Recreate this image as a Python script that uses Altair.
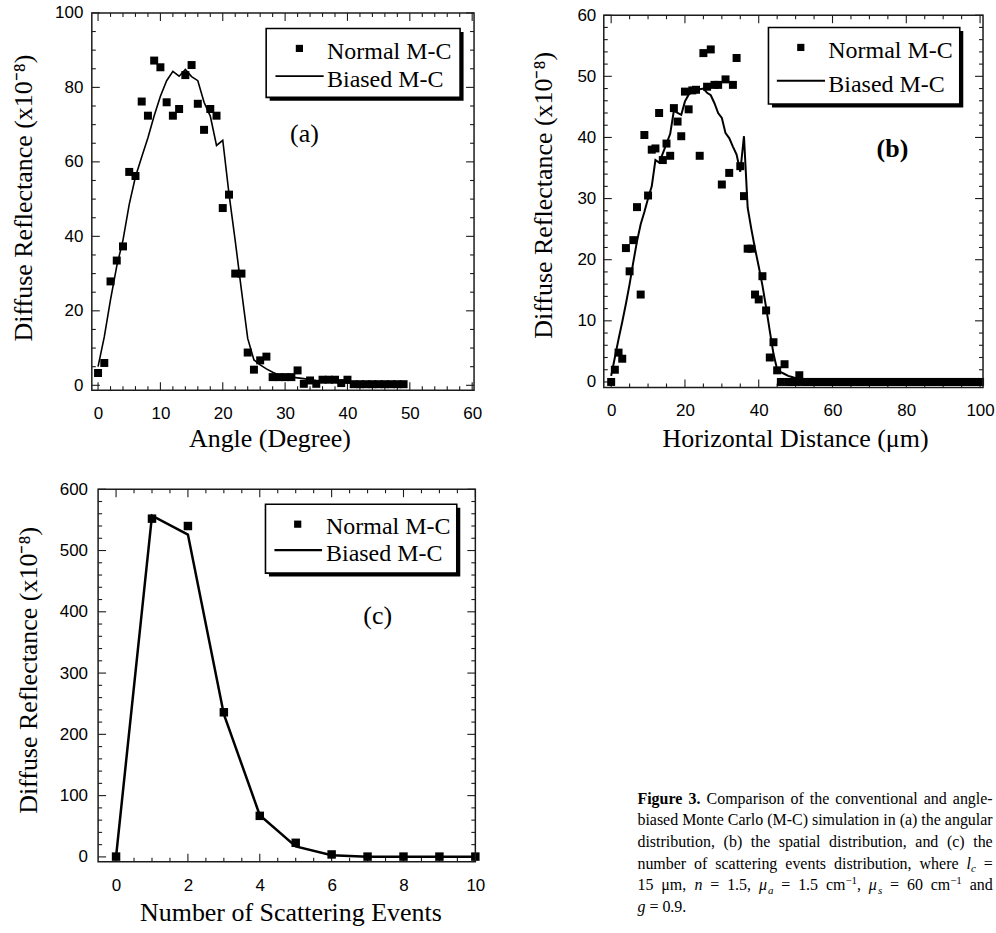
import altair as alt
import pandas as pd

# ---------------------------------------------------------------------------
# Panel (a): angular distribution of the diffuse reflectance
# ---------------------------------------------------------------------------
angle_deg = list(range(50))
angle_normal = [3.3, 6.0, 27.9, 33.5, 37.3, 57.3, 56.2, 76.2, 72.4, 87.2,
                85.4, 76.0, 72.4, 74.2, 83.3, 86.0, 75.6, 68.6, 74.2, 72.4,
                47.6, 51.2, 30.0, 30.0, 8.8, 4.2, 6.7, 7.7, 2.2, 2.2,
                2.2, 2.2, 4.0, 0.4, 1.3, 0.4, 1.5, 1.5, 1.5, 0.6,
                1.5, 0.3, 0.3, 0.3, 0.3, 0.3, 0.3, 0.3, 0.3, 0.3]
angle_biased = [5.0, 13.0, 23.0, 32.0, 39.0, 48.6, 56.0, 61.3, 66.5, 72.4,
                77.6, 81.8, 84.3, 83.0, 84.8, 82.9, 81.8, 76.0, 72.3, 64.4,
                65.8, 51.4, 38.8, 25.5, 12.6, 6.8, 5.5, 4.4, 3.5, 2.8,
                2.4, 2.2, 2.0, 1.8, 1.5, 1.3, 1.2, 1.0, 0.8, 0.7,
                0.6, 0.5, 0.5, 0.4, 0.4, 0.4, 0.3, 0.3, 0.3, 0.3]

# ---------------------------------------------------------------------------
# Panel (b): spatial distribution (horizontal distance, um)
# ---------------------------------------------------------------------------
distance_um = list(range(101))
distance_normal = [0.0, 2.0, 4.8, 3.8, 21.9, 18.1, 23.2, 28.6, 14.3, 40.4,
                   30.5, 38.0, 38.2, 44.0, 36.3, 39.0, 37.0, 44.8, 42.6, 40.2,
                   47.5, 44.6, 47.7, 47.8, 37.0, 53.8, 48.3, 54.4, 48.6, 48.6,
                   32.3, 49.5, 34.2, 48.6, 53.0, 35.3, 30.4, 21.8, 21.8, 14.3,
                   13.5, 17.3, 11.7, 4.0, 6.5, 1.9, 0.0, 2.9, 0.0, 0.0,
                   0.0, 1.1, 0.0, 0.0, 0.0, 0.0, 0.0, 0.0, 0.0, 0.0,
                   0.0, 0.0, 0.0, 0.0, 0.0, 0.0, 0.0, 0.0, 0.0, 0.0,
                   0.0, 0.0, 0.0, 0.0, 0.0, 0.0, 0.0, 0.0, 0.0, 0.0,
                   0.0, 0.0, 0.0, 0.0, 0.0, 0.0, 0.0, 0.0, 0.0, 0.0,
                   0.0, 0.0, 0.0, 0.0, 0.0, 0.0, 0.0, 0.0, 0.0, 0.0,
                   0.0]
distance_biased = [1.0, 4.0, 7.0, 9.8, 12.8, 16.0, 19.6, 23.0, 25.8, 27.8,
                   30.0, 32.0, 36.3, 35.9, 37.4, 39.0, 40.6, 44.4, 44.0, 43.7,
                   45.9, 47.0, 47.5, 47.8, 47.9, 48.0, 47.3, 46.9, 45.6, 44.0,
                   43.2, 40.7, 39.9, 38.5, 37.2, 34.4, 40.2, 28.5, 25.0, 21.8,
                   18.9, 15.8, 12.2, 8.3, 4.6, 2.0, 1.6, 1.3, 1.0, 0.8,
                   0.6, 0.3, 0.0, 0.0, 0.0, 0.0, 0.0, 0.0, 0.0, 0.0,
                   0.0, 0.0, 0.0, 0.0, 0.0, 0.0, 0.0, 0.0, 0.0, 0.0,
                   0.0, 0.0, 0.0, 0.0, 0.0, 0.0, 0.0, 0.0, 0.0, 0.0,
                   0.0, 0.0, 0.0, 0.0, 0.0, 0.0, 0.0, 0.0, 0.0, 0.0,
                   0.0, 0.0, 0.0, 0.0, 0.0, 0.0, 0.0, 0.0, 0.0, 0.0,
                   0.0]

# ---------------------------------------------------------------------------
# Panel (c): number of scattering events
# ---------------------------------------------------------------------------
scatter_events = list(range(11))
events_normal = [0.5, 552.0, 540.0, 236.0, 67.0, 23.0, 4.0, 0.5, 0.5, 0.5, 0.5]
events_biased = [0.5, 557.0, 526.0, 233.0, 68.0, 17.0, 2.6, 0.3, 0.3, 0.3, 0.3]

series_labels = ["Normal M-C", "Biased M-C"]
panel_tags = ["(a)", "(b)", "(c)"]
x_titles = ["Angle (Degree)", "Horizontal Distance (μm)", "Number of Scattering Events"]
y_title = "Diffuse Reflectance (x10⁻⁸)"

a_x_labels = [0, 10, 20, 30, 40, 50, 60]
a_y_labels = [0, 20, 40, 60, 80, 100]
b_x_labels = [0, 20, 40, 60, 80, 100]
b_y_labels = [0, 10, 20, 30, 40, 50, 60]
c_x_labels = [0, 2, 4, 6, 8, 10]
c_y_labels = [0, 100, 200, 300, 400, 500, 600]

# ---------------------------------------------------------------------------
# Styling
# ---------------------------------------------------------------------------
SERIF = "Liberation Serif"
SANS = "Liberation Sans"
INK = "#1b1b1b"


def minor_ticks(lo, hi, step, majors):
    n = int(round((hi - lo) / step))
    vals = [round(lo + k * step, 4) for k in range(n + 1)]
    return [v for v in vals if all(abs(v - m) > 1e-9 for m in majors)]


def make_panel(p):
    xkw = dict(domain=p["xdom"], nice=False, zero=False)
    if "xrange" in p:
        xkw["range"] = p["xrange"]
    ykw = dict(domain=p["ydom"], nice=False, zero=False)
    if "yrange" in p:
        ykw["range"] = p["yrange"]
    sx = alt.Scale(**xkw)
    sy = alt.Scale(**ykw)

    ax = alt.Axis(values=p["x_major"], title=p["xtitle"], grid=False, domain=False,
                  ticks=False, tickSize=0, labelFont=SANS, labelFontSize=17,
                  labelColor="black", labelPadding=p["xlabpad"], labelFlush=False,
                  labelOverlap=False, titleFont=SERIF, titleFontSize=26,
                  titleFontWeight="normal", titleColor="black", titleAlign="center",
                  titleBaseline="alphabetic", titleX=p["xtitle_pos"][0],
                  titleY=p["xtitle_pos"][1])
    ay = alt.Axis(values=p["y_major"], title=y_title, grid=False, domain=False,
                  ticks=False, tickSize=0, labelFont=SANS, labelFontSize=17,
                  labelColor="black", labelPadding=p["ylabpad"], labelFlush=False,
                  labelOverlap=False, titleFont=SERIF, titleFontSize=26,
                  titleFontWeight="normal", titleColor="black", titleAngle=270,
                  titleAlign="center", titleBaseline="alphabetic",
                  titleX=p["ytitle_pos"][0], titleY=p["ytitle_pos"][1])

    def X(f):
        return alt.X(f, scale=sx, axis=ax)

    def Y(f):
        return alt.Y(f, scale=sy, axis=ay)

    def XD(d):
        return alt.XDatum(datum=d, scale=sx, axis=ax)

    def YD(d):
        return alt.YDatum(datum=d, scale=sy, axis=ay)

    xlo, xhi = p["xdom"]
    ylo, yhi = p["ydom"]
    one = pd.DataFrame({"k": [0]})
    layers = []

    # inward ticks on all four sides
    x_minor = minor_ticks(p["x_major"][0], p["x_major"][-1], p["x_step"], p["x_major"])
    y_minor = minor_ticks(p["y_major"][0], p["y_major"][-1], p["y_step"], p["y_major"])
    for vals, ln in ((p["x_major"], 8), (x_minor, 4)):
        df = pd.DataFrame({"v": vals})
        layers.append(alt.Chart(df).mark_rule(color=INK, strokeWidth=1.1, y2Offset=-ln)
                      .encode(x=X("v:Q"), y=YD(ylo), y2=alt.Y2Datum(datum=ylo)))
        layers.append(alt.Chart(df).mark_rule(color=INK, strokeWidth=1.1, y2Offset=ln)
                      .encode(x=X("v:Q"), y=YD(yhi), y2=alt.Y2Datum(datum=yhi)))
    for vals, ln in ((p["y_major"], 8), (y_minor, 4)):
        df = pd.DataFrame({"v": vals})
        layers.append(alt.Chart(df).mark_rule(color=INK, strokeWidth=1.1, x2Offset=ln)
                      .encode(y=Y("v:Q"), x=XD(xlo), x2=alt.X2Datum(datum=xlo)))
        layers.append(alt.Chart(df).mark_rule(color=INK, strokeWidth=1.1, x2Offset=-ln)
                      .encode(y=Y("v:Q"), x=XD(xhi), x2=alt.X2Datum(datum=xhi)))

    # biased M-C curve and conventional M-C squares
    df_line = pd.DataFrame({"x": p["xs"], "y": p["biased"]})
    df_pts = pd.DataFrame({"x": p["xs"], "y": p["normal"]})
    layers.append(alt.Chart(df_line).mark_line(color="black", strokeWidth=p["lw"])
                  .encode(x=X("x:Q"), y=Y("y:Q")))
    layers.append(alt.Chart(df_pts).mark_square(size=p["ms"], color="black", opacity=1)
                  .encode(x=X("x:Q"), y=Y("y:Q")))

    # legend box with drop shadow
    bx0, by0, bx1, by1 = p["lg_box"]
    sh = 3.5
    layers.append(alt.Chart(one).mark_rect(color="black")
                  .encode(x=alt.value(bx0 + sh), x2=alt.value(bx1 + sh),
                          y=alt.value(by0 + sh), y2=alt.value(by1 + sh)))
    layers.append(alt.Chart(one).mark_rect(fill="white", stroke="black", strokeWidth=1.6)
                  .encode(x=alt.value(bx0), x2=alt.value(bx1),
                          y=alt.value(by0), y2=alt.value(by1)))
    mx, my = p["lg_marker"]
    layers.append(alt.Chart(one).mark_square(size=52, color="black", opacity=1)
                  .encode(x=alt.value(mx), y=alt.value(my)))
    lx0, lx1, ly = p["lg_line"]
    layers.append(alt.Chart(one).mark_rule(color="black", strokeWidth=max(p["lw"], 1.9))
                  .encode(x=alt.value(lx0), x2=alt.value(lx1), y=alt.value(ly)))
    tx = p["lg_text_x"]
    for label, ty in zip(series_labels, p["lg_text_y"]):
        layers.append(alt.Chart(one).mark_text(align="left", baseline="alphabetic",
                                               font=SERIF, fontSize=24, color="black")
                      .encode(x=alt.value(tx), y=alt.value(ty), text=alt.value(label)))

    # panel tag
    gx, gy = p["tag_pos"]
    layers.append(alt.Chart(one).mark_text(align="center", baseline="alphabetic", font=SERIF,
                                           fontSize=26, color="black",
                                           fontWeight="bold" if p["tag_bold"] else "normal")
                  .encode(x=alt.value(gx), y=alt.value(gy), text=alt.value(p["tag"])))

    # plot frame
    layers.append(alt.Chart(one).mark_rect(fillOpacity=0, stroke=INK, strokeWidth=1.5)
                  .encode(x=XD(xlo), x2=alt.X2Datum(datum=xhi),
                          y=YD(ylo), y2=alt.Y2Datum(datum=yhi)))

    return alt.layer(*layers).properties(width=p["w"], height=p["h"])


panel_a = make_panel(dict(
    xs=angle_deg, normal=angle_normal, biased=angle_biased,
    xdom=[-1.0, 60.3], ydom=[-1.3, 100.0], w=383, h=378,
    x_major=a_x_labels, x_step=2, y_major=a_y_labels, y_step=5,
    xtitle=x_titles[0], xlabpad=15, ylabpad=9,
    xtitle_pos=(178, 56), ytitle_pos=(-60, 185),
    lw=1.6, ms=64,
    lg_box=(174.7, 15.6, 369.0, 84.6), lg_marker=(208.0, 35.6),
    lg_line=(184.0, 232.3, 63.3), lg_text_x=235.7, lg_text_y=(46.6, 74.0),
    tag=panel_tags[0], tag_bold=False, tag_pos=(213, 129),
))

panel_b = make_panel(dict(
    xs=distance_um, normal=distance_normal, biased=distance_biased,
    xdom=[-2.0, 100.8], ydom=[-0.9, 60.0], w=380, h=375.3, yrange=[375.3, 2.3],
    x_major=b_x_labels, x_step=5, y_major=b_y_labels, y_step=2,
    xtitle=x_titles[1], xlabpad=15, ylabpad=8,
    xtitle_pos=(191.7, 58.7), ytitle_pos=(-52.3, 182.3),
    lw=2.0, ms=64,
    lg_box=(165.0, 14.6, 356.7, 91.3), lg_marker=(197.4, 34.6),
    lg_line=(173.4, 221.7, 68.0), lg_text_x=225.0, lg_text_y=(45.6, 79.0),
    tag=panel_tags[1], tag_bold=True, tag_pos=(289.2, 144.3),
))

panel_c = make_panel(dict(
    xs=scatter_events, normal=events_normal, biased=events_biased,
    xdom=[-0.5, 10.0], ydom=[-8.0, 600.0], w=384.3, h=373.3, xrange=[6.3, 384.3],
    x_major=c_x_labels, x_step=0.5, y_major=c_y_labels, y_step=20,
    xtitle=x_titles[2], xlabpad=16, ylabpad=4.3,
    xtitle_pos=(199, 58.4), ytitle_pos=(-55, 181),
    lw=2.5, ms=72,
    lg_box=(174.0, 15.0, 365.7, 84.0), lg_marker=(206.3, 35.0),
    lg_line=(183.0, 230.7, 61.0), lg_text_x=234.7, lg_text_y=(45.0, 71.7),
    tag=panel_tags[2], tag_bold=False, tag_pos=(286.5, 135),
))

# ---------------------------------------------------------------------------
# Figure caption, set as justified lines of Times-metric text
# ---------------------------------------------------------------------------
CAPTION = [
    [[("b", "Figure")], [("b", "3.")], "Comparison", "of", "the", "conventional",
     "and", "angle-"],
    ["biased", "Monte", "Carlo", "(M-C)", "simulation", "in", "(a)", "the", "angular"],
    ["distribution,", "(b)", "the", "spatial", "distribution,", "and", "(c)", "the"],
    ["number", "of", "scattering", "events", "distribution,", "where",
     [("i", "l"), ("sub", "c")], "="],
    ["15", "μm,", [("i", "n")], "=", "1.5,", [("i", "μ"), ("sub", "a")], "=", "1.5",
     [("r", "cm"), ("sup", "−1"), ("r", ",")], [("i", "μ"), ("sub", "s")], "=", "60",
     [("r", "cm"), ("sup", "−1")], "and"],
    [[("i", "g")], "=", "0.9."],
]
CAPTION_JUSTIFY = [True, True, True, True, True, False]

CAP_SIZE = 16
CAP_SMALL = 11
CAP_LEFT, CAP_RIGHT = 33.7, 389.7
CAP_TOP, CAP_LEAD = 315.0, 21.7

REG = {" ": 250, "(": 333, ")": 333, ",": 250, "-": 333, ".": 250, "=": 564,
       "−": 564, "μ": 576, "A": 722, "B": 667, "C": 667, "D": 722, "E": 611,
       "F": 556, "M": 889, "N": 722, "R": 667, "S": 556, "T": 611,
       "a": 444, "b": 500, "c": 444, "d": 500, "e": 444, "f": 333, "g": 500,
       "h": 500, "i": 278, "k": 500, "l": 278, "m": 778, "n": 500, "o": 500,
       "p": 500, "r": 333, "s": 389, "t": 278, "u": 500, "v": 500, "w": 722,
       "x": 500, "y": 500, "z": 444}
ITAL = {"l": 278, "c": 444, "n": 500, "a": 500, "s": 389, "g": 500, "μ": 576}
BOLD = {"F": 611, "i": 278, "g": 500, "u": 556, "r": 444, "e": 444, "3": 500, ".": 250}
STYLE = {
    "r": dict(size=CAP_SIZE, table=REG, shift=0.0, fontStyle="normal", fontWeight="normal"),
    "b": dict(size=CAP_SIZE, table=BOLD, shift=0.0, fontStyle="normal", fontWeight="bold"),
    "i": dict(size=CAP_SIZE, table=ITAL, shift=0.0, fontStyle="italic", fontWeight="normal"),
    "sub": dict(size=CAP_SMALL, table=ITAL, shift=3.5, fontStyle="italic", fontWeight="normal"),
    "sup": dict(size=CAP_SMALL, table=REG, shift=-6.0, fontStyle="normal", fontWeight="normal"),
}


def run_width(text, style):
    st = STYLE[style]
    return sum(st["table"].get(ch, REG.get(ch, 500)) for ch in text) * st["size"] / 1000.0


def caption_rows():
    rows = []
    for i, words in enumerate(CAPTION):
        runs = [[("r", w)] if isinstance(w, str) else w for w in words]
        widths = [sum(run_width(t, s) for s, t in r) for r in runs]
        if CAPTION_JUSTIFY[i] and len(runs) > 1:
            gap = (CAP_RIGHT - CAP_LEFT - sum(widths)) / (len(runs) - 1)
        else:
            gap = 0.25 * CAP_SIZE
        x = CAP_LEFT
        base = CAP_TOP + i * CAP_LEAD
        for r, w in zip(runs, widths):
            cx = x
            for s, t in r:
                rows.append({"x": cx, "y": base + STYLE[s]["shift"], "t": t, "s": s})
                cx += run_width(t, s)
            x += w + gap
    return pd.DataFrame(rows)


cap_df = caption_rows()
cap_layers = []
for style, st in STYLE.items():
    sub = cap_df[cap_df["s"] == style]
    if sub.empty:
        continue
    cap_layers.append(
        alt.Chart(sub).mark_text(align="left", baseline="alphabetic", font=SERIF,
                                 fontSize=st["size"], fontStyle=st["fontStyle"],
                                 fontWeight=st["fontWeight"], color="black")
        .encode(x=alt.X("x:Q", scale=None, axis=None),
                y=alt.Y("y:Q", scale=None, axis=None),
                text="t:N")
    )
caption = alt.layer(*cap_layers).properties(width=380, height=373)

chart = (
    alt.concat(panel_a, panel_b, panel_c, caption, columns=2,
               spacing={"row": 99.3, "column": 128}, bounds="flush")
    .properties(padding={"left": 10, "top": 3, "right": 1, "bottom": 1})
    .configure(background="white")
    .configure_view(stroke=None)
)

chart.save("out.html", embed_options={"renderer": "svg", "actions": False})
